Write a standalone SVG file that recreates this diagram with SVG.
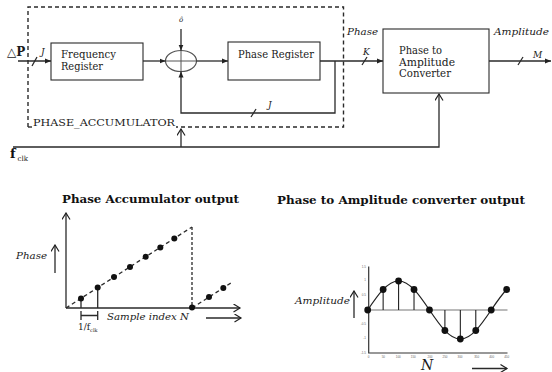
<svg xmlns="http://www.w3.org/2000/svg" width="552" height="372" viewBox="0 0 552 372">
<defs>
<marker id="tri" markerUnits="userSpaceOnUse" markerWidth="7" markerHeight="6" refX="6" refY="3" orient="auto"><path d="M0,0.5 L6,3 L0,5.5 z" fill="#222"/></marker>
<marker id="chev" markerUnits="userSpaceOnUse" markerWidth="9" markerHeight="10" refX="7.5" refY="4.5" orient="auto"><path d="M1,0.5 L7.5,4.5 L1,8.5" fill="none" stroke="#222" stroke-width="1.2"/></marker>
</defs>
<style>
.ln{stroke:#2a2a2a;stroke-width:1.3;fill:none}
.box{stroke:#2a2a2a;stroke-width:1.1;fill:#fff}
.dash{stroke:#2a2a2a;stroke-width:1.4;fill:none;stroke-dasharray:4,3}
.t{font-family:"DejaVu Serif","Liberation Serif",serif;fill:#1a1a1a}
.i{font-family:"DejaVu Serif","Liberation Serif",serif;font-style:italic;fill:#1a1a1a}
.b{font-family:"DejaVu Serif","Liberation Serif",serif;font-weight:bold;fill:#111}
.dot{fill:#111}
.tick{font-family:"Liberation Sans",Arial,sans-serif;font-size:3px;fill:#666}
</style>
<rect width="552" height="372" fill="#fff"/>

<g id="phase-accumulator">
<path class="dash" d="M28,127 V7 H343.5 V127 H176"/>
<path class="dash" d="M28,127 H32"/>
<text class="t" x="33" y="126" font-size="10" textLength="142" lengthAdjust="spacingAndGlyphs">PHASE_ACCUMULATOR</text>
</g>

<g id="frequency-register">
<rect class="box" x="51" y="43" width="92" height="37"/>
<text class="t" x="61" y="58" font-size="10.5" textLength="55" lengthAdjust="spacingAndGlyphs">Frequency</text>
<text class="t" x="61" y="69.5" font-size="10.5" textLength="42" lengthAdjust="spacingAndGlyphs">Register</text>
</g>

<g id="adder">
<ellipse cx="181" cy="61" rx="15.5" ry="10.5" fill="#fff" stroke="#555" stroke-width="1.2"/>
<path d="M165.5,61 H196.5 M181,50.5 V71.5" stroke="#555" stroke-width="1"/>
<text class="i" x="181" y="22" font-size="7" text-anchor="middle">ô</text>
</g>

<g id="phase-register">
<rect class="box" x="228" y="42" width="92" height="38"/>
<text class="t" x="238" y="57.5" font-size="10.5" textLength="76" lengthAdjust="spacingAndGlyphs">Phase Register</text>
</g>

<g id="phase-to-amplitude">
<rect class="box" x="383" y="29" width="106" height="64"/>
<text class="t" x="399" y="54" font-size="10.5" textLength="43" lengthAdjust="spacingAndGlyphs">Phase to</text>
<text class="t" x="399" y="65.5" font-size="10.5" textLength="56" lengthAdjust="spacingAndGlyphs">Amplitude</text>
<text class="t" x="399" y="77" font-size="10.5" textLength="52" lengthAdjust="spacingAndGlyphs">Converter</text>
</g>

<g id="connectors">
<path class="ln" d="M18,61 H51" marker-end="url(#tri)"/>
<path class="ln" d="M32,66 L37,57"/>
<path class="ln" d="M143,61 H165.5" marker-end="url(#tri)"/>
<path class="ln" d="M181,29 V50.5" marker-end="url(#tri)"/>
<path class="ln" d="M196.5,61 H228" marker-end="url(#tri)"/>
<path class="ln" d="M320,61 H383" marker-end="url(#tri)"/>
<path class="ln" d="M362,65 L367,57"/>
<path class="ln" d="M335,61 V113 H181 V71.5" marker-end="url(#tri)"/>
<path class="ln" d="M251,117 L256,109"/>
<path class="ln" d="M489,61 H551" marker-end="url(#tri)"/>
<path class="ln" d="M518,65 L523,57"/>
<path class="ln" d="M13,147 H439 V94" marker-end="url(#chev)"/>
<path class="ln" d="M181,147 V129" marker-end="url(#chev)"/>
</g>

<g id="labels">
<text class="t" x="7" y="56" font-size="12">△<tspan font-weight="bold">P</tspan></text>
<text class="i" x="41" y="55" font-size="9">J</text>
<text class="i" x="268" y="108" font-size="9">J</text>
<text class="i" x="363" y="55" font-size="9">K</text>
<text class="i" x="533" y="58" font-size="9">M</text>
<text class="i" x="347" y="35" font-size="9.5" textLength="31" lengthAdjust="spacingAndGlyphs">Phase</text>
<text class="i" x="494" y="35" font-size="9.5" textLength="55" lengthAdjust="spacingAndGlyphs">Amplitude</text>
<text class="b" x="10" y="158" font-size="13">f<tspan font-size="7" font-weight="normal" dx="2" dy="3">clk</tspan></text>
</g>

<g id="phase-accumulator-output">
<text class="b" x="62" y="203" font-size="11" textLength="177" lengthAdjust="spacingAndGlyphs">Phase Accumulator output</text>
<path class="ln" d="M66,308 V213" marker-end="url(#chev)"/>
<path class="ln" d="M66,308 H240" marker-end="url(#chev)"/>
<path class="ln" d="M55,273 V245" marker-end="url(#chev)"/>
<text class="i" x="16" y="259" font-size="9.5" textLength="31" lengthAdjust="spacingAndGlyphs">Phase</text>
<path class="ln" d="M66,308 L192,227" stroke-dasharray="4,3"/>
<path class="ln" d="M192,227 V308" stroke-dasharray="3,2"/>
<path class="ln" d="M192,308 L232,282.3" stroke-dasharray="4,3"/>
<path class="ln" d="M81,298.4 V308 M97.7,287.6 V308"/>
<path class="ln" d="M81,311 V320 M97.7,311 V320 M81,315.5 H97.7" stroke-width="1"/>
<circle class="dot" cx="81" cy="298.4" r="3"/>
<circle class="dot" cx="97.7" cy="287.6" r="3"/>
<circle class="dot" cx="114" cy="277.1" r="3"/>
<circle class="dot" cx="130" cy="266.9" r="3"/>
<circle class="dot" cx="145.7" cy="256.8" r="3"/>
<circle class="dot" cx="160.3" cy="247.4" r="3"/>
<circle class="dot" cx="174.3" cy="238.4" r="3"/>
<circle class="dot" cx="192" cy="307.5" r="3"/>
<circle class="dot" cx="209" cy="297.1" r="3"/>
<circle class="dot" cx="223.3" cy="287.9" r="3"/>
<text class="i" x="107" y="320" font-size="9.5" textLength="82" lengthAdjust="spacingAndGlyphs">Sample index N</text>
<path class="ln" d="M206,318 H241" stroke-width="1" marker-end="url(#chev)"/>
<text class="t" x="78" y="330" font-size="9">1/f<tspan font-size="5" dy="1.5">clk</tspan></text>
</g>

<g id="phase-to-amplitude-output">
<text class="b" x="277" y="204" font-size="11" textLength="248" lengthAdjust="spacingAndGlyphs">Phase to Amplitude converter output</text>
<path d="M368.7,266.5 V353 H507.5" stroke="#333" stroke-width="1.2" fill="none"/>
<path d="M368.7,310 H507.5" stroke="#777" stroke-width="1.2"/>
<path d="M383.14,289.5 V310 M398.58,281 V310 M414.02,289.5 V310 M444.9,310 V330.5 M460.34,310 V339 M475.78,310 V330.5" stroke="#222" stroke-width="1.1"/>
<path d="M367.7,310 C377.78,295.14 387.4,281 398.58,281 C409.76,281 419.38,295.14 429.46,310 C439.54,324.86 449.16,339 460.34,339 C471.52,339 481.14,324.86 491.22,310 C496.37,302.41 501.51,294.87 506.66,289.5" fill="none" stroke="#222" stroke-width="1.2"/>
<circle class="dot" cx="367.7" cy="310" r="3.4"/>
<circle class="dot" cx="383.14" cy="289.5" r="3.4"/>
<circle class="dot" cx="398.58" cy="281" r="3.4"/>
<circle class="dot" cx="414.02" cy="289.5" r="3.4"/>
<circle class="dot" cx="429.46" cy="310" r="3.4"/>
<circle class="dot" cx="444.9" cy="330.5" r="3.4"/>
<circle class="dot" cx="460.34" cy="339" r="3.4"/>
<circle class="dot" cx="475.78" cy="330.5" r="3.4"/>
<circle class="dot" cx="491.22" cy="310" r="3.4"/>
<circle class="dot" cx="506.66" cy="289.5" r="3.4"/>
<g class="tick" text-anchor="end">
<text x="366" y="268">1.5</text>
<text x="366" y="281">1</text>
<text x="366" y="296">0.5</text>
<text x="366" y="325">-0.5</text>
<text x="366" y="339">-1</text>
<text x="366" y="354">-1.5</text>
</g>
<g class="tick" text-anchor="middle">
<text x="368.7" y="357.5">0</text>
<text x="383.3" y="357.5">50</text>
<text x="398.3" y="357.5">100</text>
<text x="413.3" y="357.5">150</text>
<text x="430" y="357.5">200</text>
<text x="445" y="357.5">250</text>
<text x="460" y="357.5">300</text>
<text x="476.7" y="357.5">350</text>
<text x="491.7" y="357.5">400</text>
<text x="506.7" y="357.5">450</text>
</g>
<path class="ln" d="M354,318 V291" marker-end="url(#chev)"/>
<text class="i" x="295" y="304" font-size="9.5" textLength="55" lengthAdjust="spacingAndGlyphs">Amplitude</text>
<text class="i" x="421" y="370" font-size="14">N</text>
<path class="ln" d="M472,368.5 H507" stroke-width="1" marker-end="url(#chev)"/>
</g>
</svg>
